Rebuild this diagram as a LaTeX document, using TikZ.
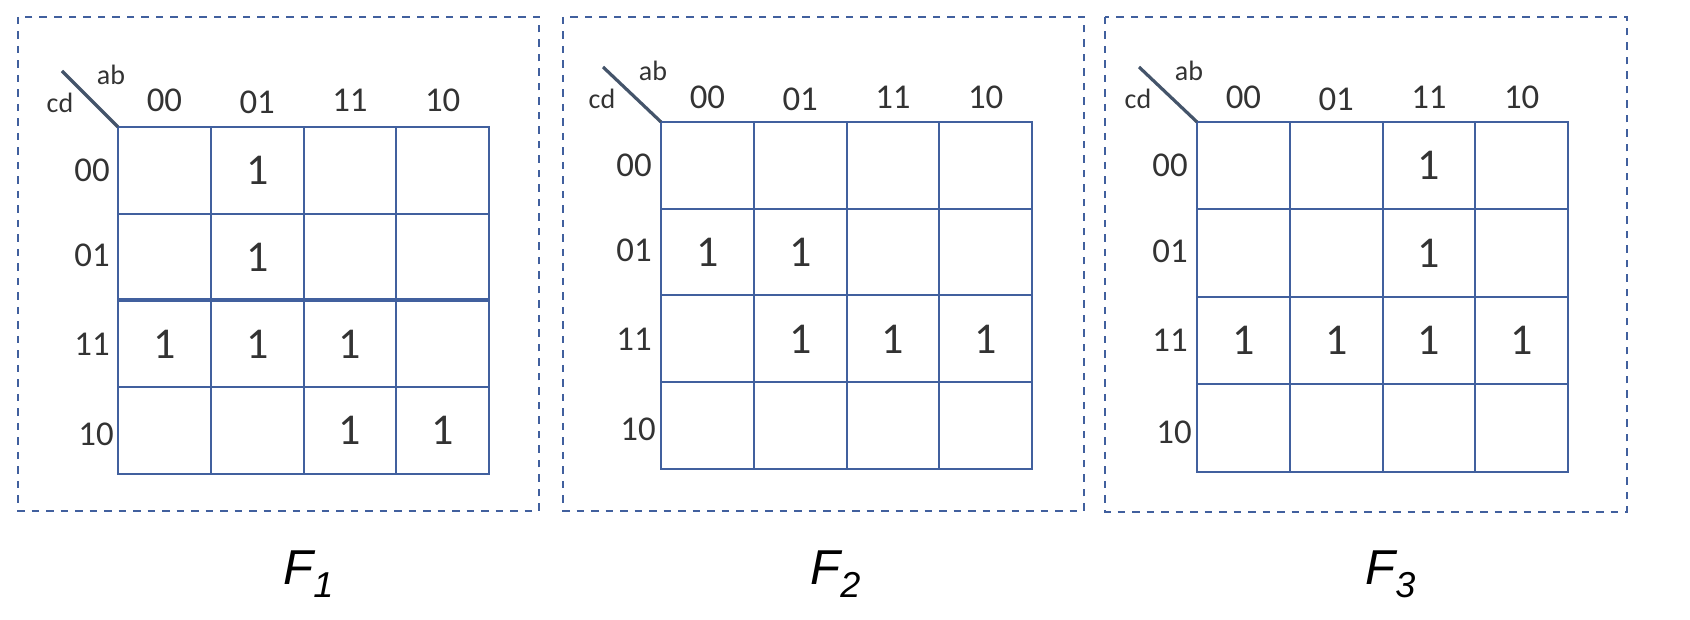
\documentclass[tikz,border=0pt]{standalone}
\usepackage{fontspec}
\setmainfont{Liberation Sans}
\newfontfamily\digfont{Carlito}
\definecolor{gridblue}{HTML}{41609E}
\definecolor{diagcol}{HTML}{44546A}
\definecolor{txtgray}{HTML}{333333}
\tikzset{
  framebox/.style={draw=gridblue, line width=1pt, dash pattern=on 3.75pt off 3.5pt},
  gridline/.style={draw=gridblue, line width=1pt},
  thickline/.style={draw=gridblue, line width=2pt},
  diagline/.style={draw=diagcol, line width=1.6pt},
  headtxt/.style={text=txtgray, inner sep=0pt, font=\digfont\fontsize{17.4}{20}\selectfont},
  vartxt/.style={text=txtgray, inner sep=0pt, font=\digfont\fontsize{14}{16}\selectfont},
  onetxt/.style={text=txtgray, inner sep=0pt, font=\digfont\fontsize{22}{25}\selectfont},
  ftxt/.style={inner sep=0pt, anchor=base west, font=\fontsize{24.5}{28}\selectfont\itshape}
}
\newcommand{\fsub}[1]{\raisebox{-6.5pt}{\fontsize{18}{20}\selectfont #1}}
\begin{document}
\begin{tikzpicture}[x=0.5pt,y=0.5pt]
\useasboundingbox (0,0) rectangle (1690,620);
% F1
\draw[framebox] (18,603) rectangle (539,109);
\begin{scope}[shift={(118,493)}]
  \draw[gridline] (0,0) rectangle (371,-347);
  \foreach \i in {1,2,3} {
    \draw[gridline] (\i*92.75,0) -- (\i*92.75,-347);
    \draw[gridline] (0,-\i*86.75) -- (371,-\i*86.75);
  }
  \draw[thickline] (0,-173.5) -- (371,-173.5);
  \coordinate (m1o) at (0,0);
  \coordinate (m1d) at (-56,56);
  \draw[diagline] (m1d) -- (m1o);
  \node[vartxt] (m1ab) at (-7,52) {ab};
  \node[vartxt] (m1cd) at (-58,24) {cd};
  \foreach \t/\dy/\dx [count=\i from 0] in {00/0/0,01/-2/0,11/0/0,10/0/4} {
    \node[headtxt] (m1col\i) at (46.4+\i*92.75,27+\dy) {\t};
    \node[headtxt] (m1row\i) at (-26+\dx,-43.4-\i*86.75-\dy-\dx) {\t};
  }
  \foreach \c/\r in {1/0,1/1,0/2,1/2,2/2,2/3,3/3}
    \node[onetxt] (m1one\c\r) at (46.4+\c*92.75,-43.4-\r*86.75) {1};
\end{scope}
\node[ftxt] (f1) at (283,35) {F\fsub{1}};
% F2
\draw[framebox] (563,603) rectangle (1084,109);
\begin{scope}[shift={(661,498)}]
  \draw[gridline] (0,0) rectangle (371,-347);
  \foreach \i in {1,2,3} {
    \draw[gridline] (\i*92.75,0) -- (\i*92.75,-347);
    \draw[gridline] (0,-\i*86.75) -- (371,-\i*86.75);
  }
  \coordinate (m2o) at (0,0);
  \coordinate (m2d) at (-58,55);
  \draw[diagline] (m2d) -- (m2o);
  \node[vartxt] (m2ab) at (-8,51) {ab};
  \node[vartxt] (m2cd) at (-59,23) {cd};
  \foreach \t/\dy/\dx [count=\i from 0] in {00/0/0,01/-2/0,11/0/0,10/0/4} {
    \node[headtxt] (m2col\i) at (46.4+\i*92.75,25+\dy) {\t};
    \node[headtxt] (m2row\i) at (-27+\dx,-43.4-\i*86.75-\dy-\dx) {\t};
  }
  \foreach \c/\r in {0/1,1/1,1/2,2/2,3/2}
    \node[onetxt] (m2one\c\r) at (46.4+\c*92.75,-43.4-\r*86.75) {1};
\end{scope}
\node[ftxt] (f2) at (810,35) {F\fsub{2}};
% F3
\draw[framebox] (1105,603) rectangle (1627,108);
\begin{scope}[shift={(1197,498)}]
  \draw[gridline] (0,0) rectangle (371,-350);
  \foreach \i in {1,2,3} {
    \draw[gridline] (\i*92.75,0) -- (\i*92.75,-350);
    \draw[gridline] (0,-\i*87.5) -- (371,-\i*87.5);
  }
  \coordinate (m3o) at (0,0);
  \coordinate (m3d) at (-58,55);
  \draw[diagline] (m3d) -- (m3o);
  \node[vartxt] (m3ab) at (-8,51) {ab};
  \node[vartxt] (m3cd) at (-59,23) {cd};
  \foreach \t/\dy/\dx [count=\i from 0] in {00/0/0,01/-2/0,11/0/0,10/0/4} {
    \node[headtxt] (m3col\i) at (46.4+\i*92.75,25+\dy) {\t};
    \node[headtxt] (m3row\i) at (-27+\dx,-43.7-\i*87.5-\dy-\dx) {\t};
  }
  \foreach \c/\r in {2/0,2/1,0/2,1/2,2/2,3/2}
    \node[onetxt] (m3one\c\r) at (46.4+\c*92.75,-43.7-\r*87.5) {1};
\end{scope}
\node[ftxt] (f3) at (1365,35) {F\fsub{3}};
\end{tikzpicture}
\end{document}
